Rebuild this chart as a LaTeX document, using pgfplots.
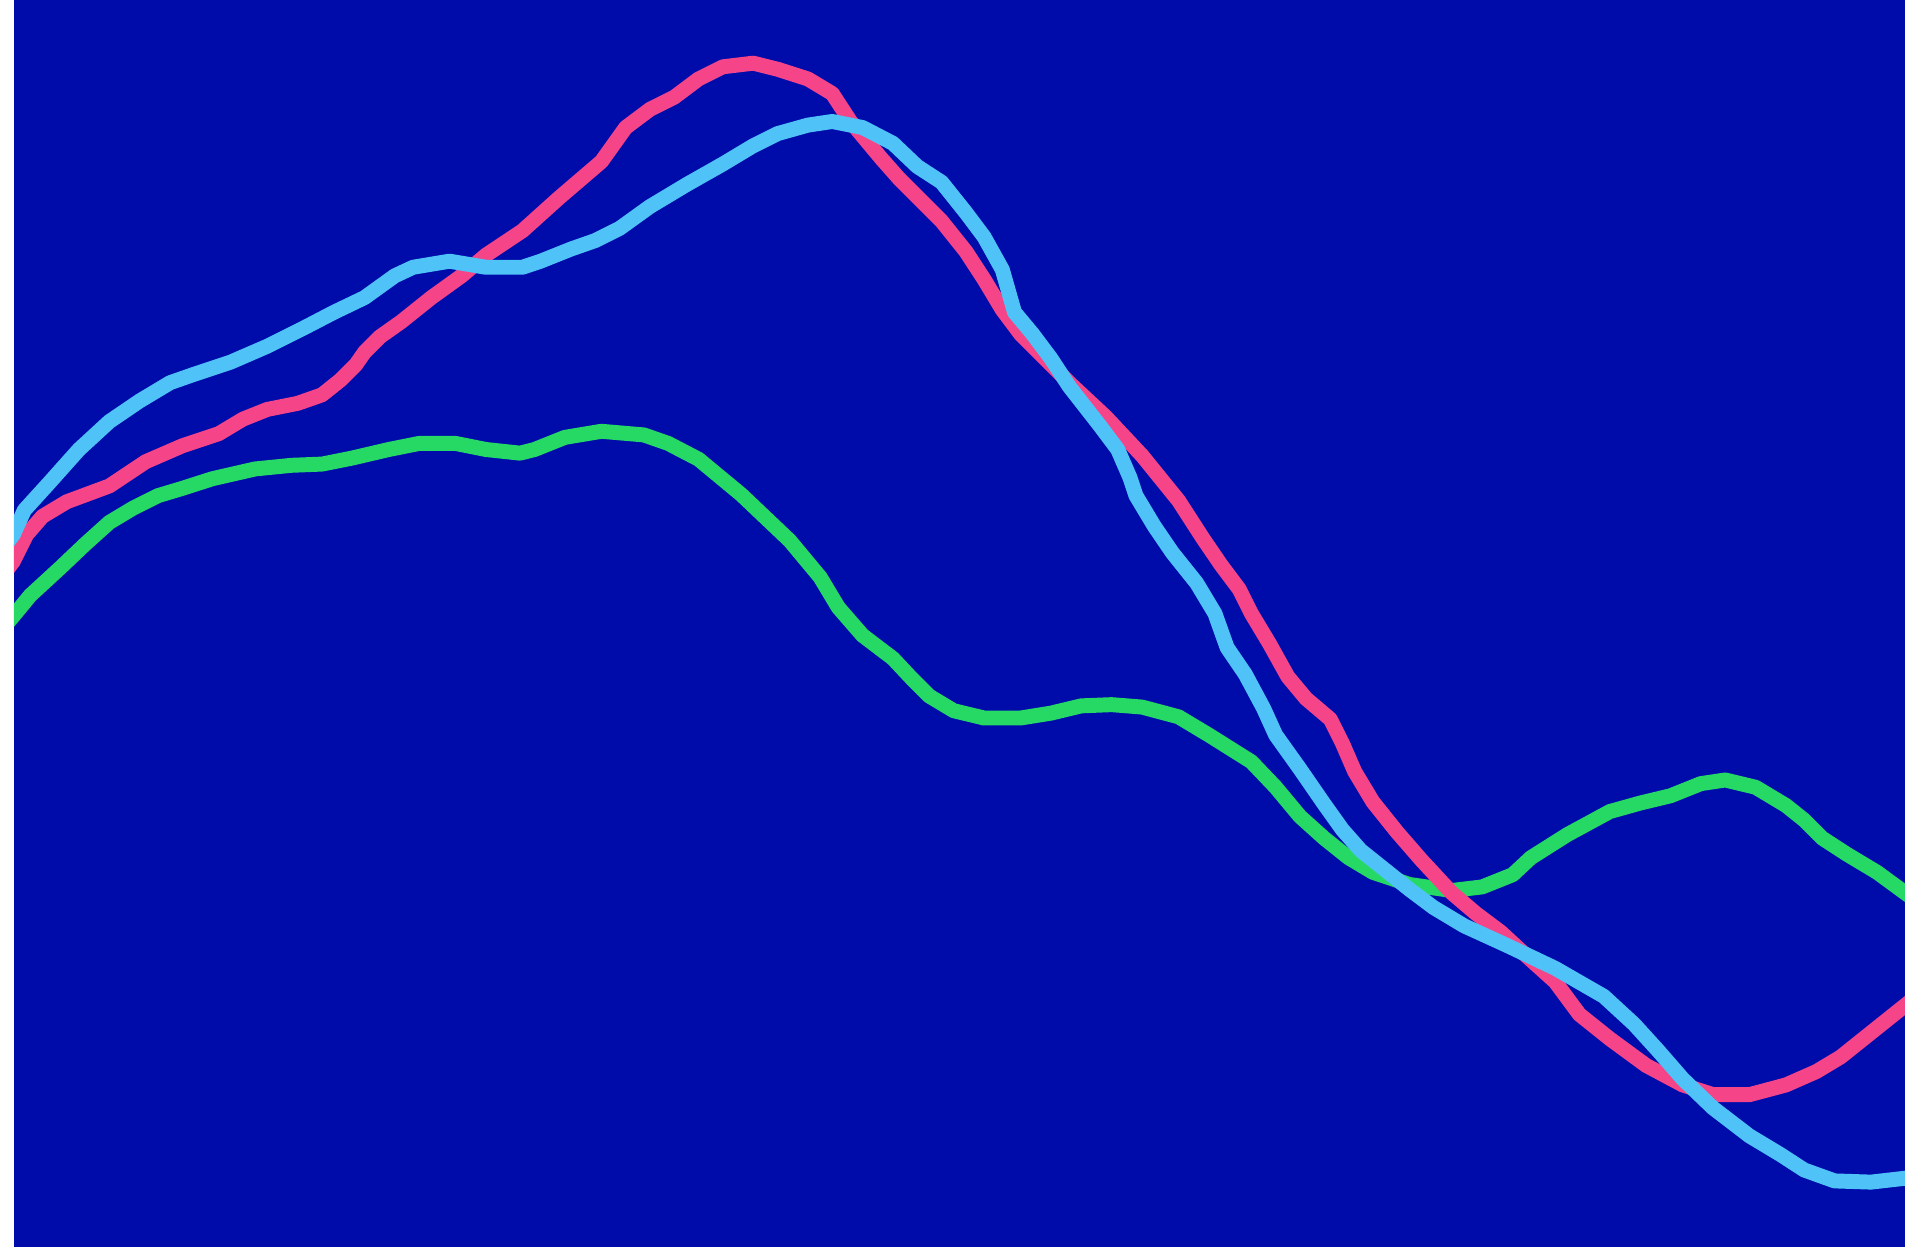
\documentclass[border=0pt]{standalone}
\usepackage{pgfplots}
\pgfplotsset{compat=1.18}
\definecolor{bgblue}{RGB}{0,12,170}
\definecolor{cpink}{RGB}{245,68,136}
\definecolor{clblue}{RGB}{79,195,247}
\definecolor{cgreen}{RGB}{38,217,100}
\begin{document}
\begin{tikzpicture}
\begin{axis}[
  scale only axis, width=15.565cm, height=10.26cm,
  xmin=11.5, xmax=1568, ymin=0, ymax=1026, y dir=reverse,
  axis line style={draw=none}, ticks=none,
  axis background/.style={fill=bgblue},
  every axis plot/.append style={line width=3.5pt, line join=round, line cap=round, mark=none},
]
\addplot[cgreen] coordinates {
(5,514) (11,507) (25,490) (50,467) (70,448) (90,430) (110,418) (130,408) (150,402) (175,394) (210,386) (240,383) (265,382) (290,377) (320,370) (345,365) (375,365) (400,370) (428,373) (440,370) (465,360) (495,355) (530,358) (550,365) (575,378) (610,407) (650,445) (675,475) (690,500) (710,523) (735,542) (750,558) (765,573) (785,585) (810,591) (840,591) (865,587) (890,581) (915,580) (940,582) (970,590) (995,605) (1030,627) (1050,648) (1070,672) (1090,690) (1110,706) (1130,718) (1160,728) (1195,733) (1220,730) (1245,720) (1260,706) (1290,687) (1325,668) (1350,661) (1375,655) (1400,645) (1420,642) (1445,648) (1470,663) (1485,675) (1500,690) (1520,703) (1545,718) (1575,740)
};
\addplot[cpink] coordinates {
(5,470) (11,462) (22,440) (35,425) (55,413) (90,400) (120,380) (150,367) (180,357) (200,345) (220,337) (245,332) (265,325) (280,313) (293,300) (300,290) (313,277) (330,265) (355,245) (380,227) (400,210) (430,190) (460,163) (495,133) (515,105) (535,90) (555,80) (575,65) (595,55) (620,52) (640,57) (665,65) (685,77) (700,100) (725,130) (740,147) (760,167) (775,182) (795,207) (810,230) (825,255) (840,275) (860,295) (880,315) (910,343) (940,375) (970,412) (990,443) (1005,465) (1020,485) (1030,505) (1045,530) (1060,557) (1075,575) (1095,592) (1105,612) (1115,635) (1130,660) (1150,685) (1170,708) (1195,735) (1215,752) (1235,767) (1260,790) (1280,808) (1300,835) (1325,855) (1355,877) (1385,893) (1410,901) (1440,901) (1470,893) (1495,882) (1515,870) (1540,850) (1575,822)
};
\addplot[clblue] coordinates {
(5,448) (11,440) (20,420) (40,398) (65,370) (90,347) (115,330) (140,315) (160,308) (190,298) (220,285) (250,270) (275,257) (300,245) (325,227) (340,220) (370,215) (400,220) (430,220) (445,215) (470,205) (490,198) (510,188) (535,170) (565,152) (595,135) (620,120) (640,110) (665,103) (685,100) (710,105) (735,118) (755,137) (775,150) (795,175) (810,195) (825,222) (835,257) (850,275) (865,295) (880,318) (905,350) (920,370) (930,393) (935,408) (950,433) (965,455) (985,480) (1000,505) (1010,533) (1025,555) (1040,583) (1050,605) (1070,633) (1090,662) (1105,683) (1120,700) (1140,716) (1160,732) (1180,747) (1205,762) (1240,778) (1280,797) (1320,820) (1345,843) (1365,865) (1385,888) (1410,912) (1440,935) (1465,950) (1485,963) (1510,972) (1540,973) (1575,969)
};
\end{axis}
\path[use as bounding box] ([xshift=-0.115cm]current axis.south west) rectangle (current axis.north east);
\end{tikzpicture}
\end{document}
